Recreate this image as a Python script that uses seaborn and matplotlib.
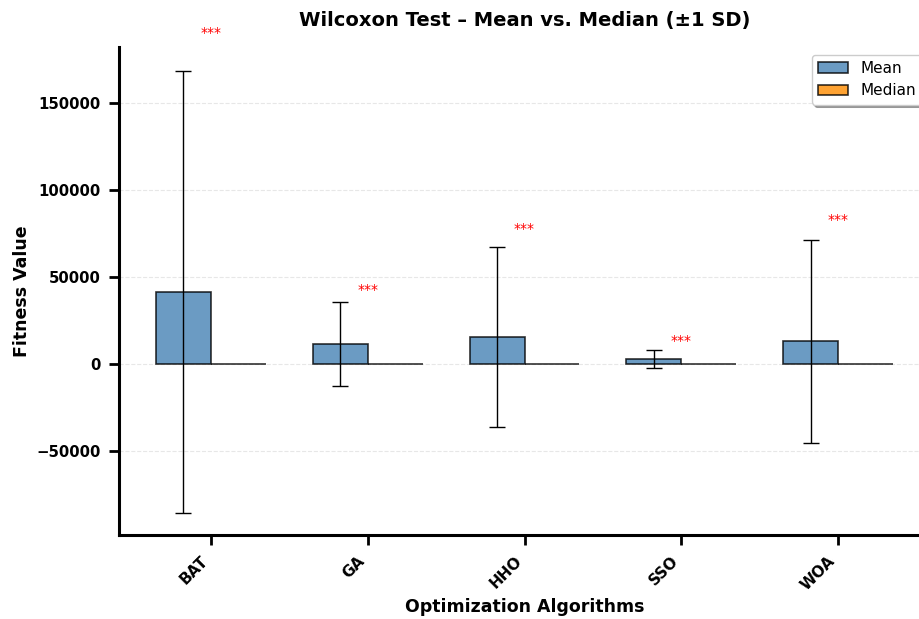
import numpy as np
import pandas as pd
import matplotlib
matplotlib.use('Agg')
import matplotlib.pyplot as plt
import seaborn as sns

# values
algorithms = ['BAT', 'GA', 'HHO', 'SSO', 'WOA']
mean_vals = [41400, 11500, 15300, 3000, 13000]
mean_sd = [127000, 24000, 51700, 5200, 58300]
median_vals = [150, 40, 90, 20, 60]
sig_labels = ['***', '***', '***', '***', '***']
sig_y = [190000, 42600, 77600, 13300, 82800]

sns.set_style('ticks')
plt.rcParams['font.family'] = ['DejaVu Sans']
plt.rcParams.update({'text.color': 'black', 'axes.labelcolor': 'black',
                     'xtick.color': 'black', 'ytick.color': 'black',
                     'axes.edgecolor': 'black'})

df = pd.DataFrame({
    'Algorithm': algorithms * 2,
    'Statistic': ['Mean'] * len(algorithms) + ['Median'] * len(algorithms),
    'Value': mean_vals + median_vals,
})

fig = plt.figure(figsize=(9.19, 6.19), dpi=100)
ax = fig.add_axes([0.1295, 0.1357, 0.8825, 0.7883])

sns.barplot(data=df, x='Algorithm', y='Value', hue='Statistic',
            palette=['steelblue', 'darkorange'], saturation=1, width=0.7,
            errorbar=None, alpha=0.8, edgecolor='black', linewidth=1.2, ax=ax)

w = 0.35
x = np.arange(len(algorithms))
ax.errorbar(x - w / 2, mean_vals, yerr=mean_sd, fmt='none', ecolor='black',
            elinewidth=1, capsize=6, capthick=1)

for i, lab in enumerate(sig_labels):
    ax.text(x[i], sig_y[i], lab, ha='center', va='center', color='red',
            fontsize=10)

ax.set_xlim(-0.585, len(algorithms) - 1 + 0.585)
ax.set_ylim(-98300, 182000)
ax.set_title('Wilcoxon Test – Mean vs. Median (±1 SD)', fontsize=14,
             fontweight='bold', pad=15)
ax.set_xlabel('Optimization Algorithms', fontsize=12.5, fontweight='bold')
ax.set_ylabel('Fitness Value', fontsize=12.5, fontweight='bold')
plt.setp(ax.get_xticklabels(), rotation=45, ha='right',
         fontweight='bold', fontsize=11)
plt.setp(ax.get_yticklabels(), fontweight='bold', fontsize=10.7)
ax.tick_params(axis='both', width=2, length=7, pad=6)
ax.grid(axis='y', linestyle='--', color='#b0b0b0', alpha=0.3)
ax.set_axisbelow(True)
sns.despine(ax=ax)
for s in ['left', 'bottom']:
    ax.spines[s].set_linewidth(2.2)

leg = ax.legend(loc='upper right', fontsize=11, frameon=True, shadow=True,
                fancybox=True)
leg.set_title(None)

fig.savefig('out.png', dpi=100)
